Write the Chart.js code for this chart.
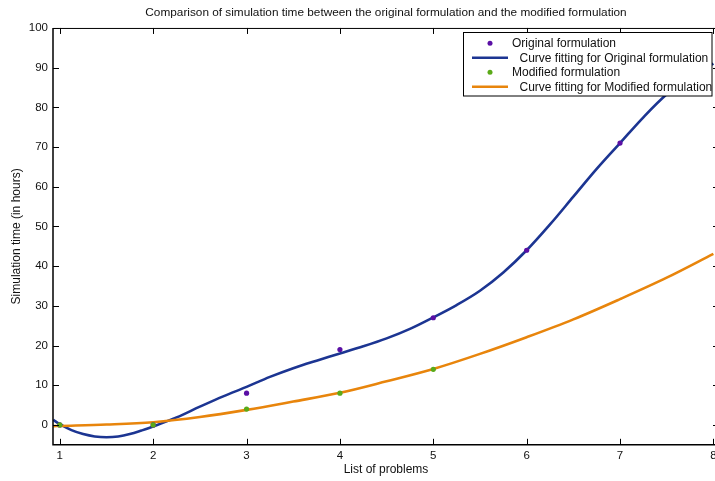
<!DOCTYPE html>
<html><head><meta charset="utf-8">
<script src="https://cdn.jsdelivr.net/npm/chart.js@4/dist/chart.umd.min.js"></script>
<style>
html,body{margin:0;padding:0;background:#fff;overflow:hidden;}
#wrap{width:715px;height:481px;overflow:hidden;position:relative;background:#fff;}
canvas{display:block;}
</style></head><body>
<div id="wrap"><canvas id="c" width="724" height="481" style="width:724px;height:481px"></canvas></div>
<script>
// ---- data ----
const problems = [1, 2, 3, 4, 5, 6, 7];
const originalTimes = [0, 0, 8, 19, 27, 44, 71];
const modifiedProblems = [1, 2, 3, 4, 5];
const modifiedTimes = [0, 0, 4, 8, 14];

const originalFitX = [0.93, 1.0, 1.125, 1.25, 1.375, 1.5, 1.625, 1.75, 1.875, 2.0, 2.25, 2.5, 2.75, 3.0, 3.25, 3.5, 3.75, 4.0, 4.25, 4.5, 4.75, 5.0, 5.25, 5.5, 5.75, 6.0, 6.25, 6.5, 6.75, 7.0, 7.25, 7.5, 7.75, 8.0];
const originalFit  = [1.3, 0.2, -1.3, -2.3, -2.9, -3.1, -2.9, -2.3, -1.4, -0.4, 1.9, 4.6, 7.2, 9.6, 12.1, 14.3, 16.2, 18.0, 19.8, 21.8, 24.2, 27.1, 30.2, 33.8, 38.4, 44.0, 50.5, 57.5, 64.5, 71.0, 77.5, 83.3, 87.8, 91.0];

const modifiedFitX = [0.93, 1.0, 1.5, 2.0, 2.5, 3.0, 3.5, 4.0, 4.5, 5.0, 5.5, 6.0, 6.5, 7.0, 7.5, 8.0];
const modifiedFit  = [-0.3, -0.25, 0.1, 0.7, 2.0, 3.8, 5.9, 8.1, 11.0, 14.1, 17.9, 22.1, 26.6, 31.7, 37.1, 43.1];

const xTickLabels = [1, 2, 3, 4, 5, 6, 7, 8];
const yTickLabels = [0, 10, 20, 30, 40, 50, 60, 70, 80, 90, 100];

const seriesNames = ['Original formulation', 'Curve fitting for Original formulation', 'Modified formulation', 'Curve fitting for Modified formulation'];
const titleText = 'Comparison of simulation time between the original formulation and the modified formulation';
const xTitle = 'List of problems';
const yTitle = 'Simulation time (in hours)';

const toXY = (xs, ys) => xs.map((x, i) => ({x: x, y: ys[i]}));

const FONT = "'Liberation Sans', Arial, Helvetica, sans-serif";
const TXT = '#111';

const framePlugin = {
  id: 'frameAndLegend',
  afterDatasetsDraw(chart) {
    const ctx = chart.ctx;
    const {left, right, top, bottom} = chart.chartArea;
    ctx.save();
    ctx.strokeStyle = '#000';
    // frame
    ctx.lineWidth = 1.5;
    ctx.beginPath();
    ctx.moveTo(left, top); ctx.lineTo(left, bottom); ctx.lineTo(right, bottom);
    ctx.stroke();
    ctx.lineWidth = 1;
    ctx.beginPath();
    ctx.moveTo(left, top + 0.5); ctx.lineTo(right, top + 0.5); ctx.lineTo(right - 0.5, bottom);
    ctx.stroke();
    // inward ticks
    ctx.lineWidth = 1;
    ctx.beginPath();
    chart.scales.x.ticks.forEach(t => {
      const px = Math.round(chart.scales.x.getPixelForValue(t.value)) + 0.5;
      ctx.moveTo(px, bottom); ctx.lineTo(px, bottom - 6);
      ctx.moveTo(px, top); ctx.lineTo(px, top + 6);
    });
    chart.scales.y.ticks.forEach(t => {
      const py = Math.round(chart.scales.y.getPixelForValue(t.value)) + 0.5;
      ctx.moveTo(left, py); ctx.lineTo(left + 6, py);
      ctx.moveTo(right, py); ctx.lineTo(right - 6, py);
    });
    ctx.stroke();

    // legend box
    const bx = 463.5, by = 32.5, bw = 248.5, bh = 63.5;
    ctx.fillStyle = '#fff';
    ctx.fillRect(bx, by, bw, bh);
    ctx.strokeStyle = '#000';
    ctx.lineWidth = 1;
    ctx.strokeRect(bx, by, bw, bh);
    ctx.font = '12px ' + FONT;
    ctx.textBaseline = 'middle';
    ctx.textAlign = 'left';
    chart.data.datasets.forEach((ds, i) => {
      const y = 43.3 + i * 14.5;
      if (ds.showLine) {
        ctx.strokeStyle = ds.borderColor;
        ctx.lineWidth = 2.5;
        ctx.beginPath();
        ctx.moveTo(472, y); ctx.lineTo(508, y);
        ctx.stroke();
        ctx.fillStyle = TXT;
        ctx.fillText(ds.label, 519.5, y + 0.5);
      } else {
        ctx.fillStyle = ds.backgroundColor;
        ctx.beginPath();
        ctx.arc(490, y, 2.5, 0, Math.PI * 2);
        ctx.fill();
        ctx.fillStyle = TXT;
        ctx.fillText(ds.label, 512, y + 0.5);
      }
    });
    ctx.restore();
  }
};

new Chart(document.getElementById('c'), {
  type: 'scatter',
  data: {
    datasets: [
      {label: seriesNames[0], data: toXY(problems, originalTimes), backgroundColor: '#5a0fa5', borderColor: '#5a0fa5', pointRadius: 2.6, pointBorderWidth: 0, showLine: false, order: 1},
      {label: seriesNames[1], data: toXY(originalFitX, originalFit), borderColor: '#1c3592', backgroundColor: '#1c3592', borderWidth: 2.6, pointRadius: 0, showLine: true, tension: 0.35, order: 3},
      {label: seriesNames[2], data: toXY(modifiedProblems, modifiedTimes), backgroundColor: '#5aaa18', borderColor: '#5aaa18', pointRadius: 2.6, pointBorderWidth: 0, showLine: false, order: 0},
      {label: seriesNames[3], data: toXY(modifiedFitX, modifiedFit), borderColor: '#e8850c', backgroundColor: '#e8850c', borderWidth: 2.6, pointRadius: 0, showLine: true, tension: 0.35, order: 2}
    ]
  },
  options: {
    responsive: false,
    animation: false,
    devicePixelRatio: 1,
    layout: {padding: {left: 0, right: 5, top: 0, bottom: 0}},
    plugins: {
      legend: {display: false},
      tooltip: {enabled: false},
      title: {
        display: true, text: titleText, fullSize: false, color: TXT,
        font: {family: FONT, size: 11.8, weight: 'normal', lineHeight: 1.2},
        padding: {top: 5.8, bottom: 8}
      }
    },
    scales: {
      x: {
        type: 'linear', min: 0.927, max: 8.06,
        afterBuildTicks: s => { s.ticks = xTickLabels.map(v => ({value: v})); },
        afterFit: s => { s.height = 36.2; s.paddingLeft = 0; s.paddingRight = 0; },
        grid: {display: false, drawTicks: false},
        border: {display: false},
        ticks: {color: TXT, font: {family: FONT, size: 11.5}, padding: 4.5, maxRotation: 0, autoSkip: false, callback: v => String(v)},
        title: {display: true, text: xTitle, color: TXT, font: {family: FONT, size: 12, lineHeight: 1.2}, padding: {top: 0, bottom: 4.3}}
      },
      y: {
        type: 'linear', min: -5, max: 100,
        afterBuildTicks: s => { s.ticks = yTickLabels.map(v => ({value: v})); },
        afterFit: s => { s.width = 53; s.paddingTop = 0; s.paddingBottom = 0; },
        grid: {display: false, drawTicks: false},
        border: {display: false},
        ticks: {color: TXT, font: {family: FONT, size: 11.5}, padding: 5, autoSkip: false, callback: v => String(v)},
        title: {display: true, text: yTitle, color: TXT, font: {family: FONT, size: 12, lineHeight: 1.2}, padding: {top: 9.8, bottom: 0}}
      }
    }
  },
  plugins: [framePlugin]
});
</script>
</body></html>
